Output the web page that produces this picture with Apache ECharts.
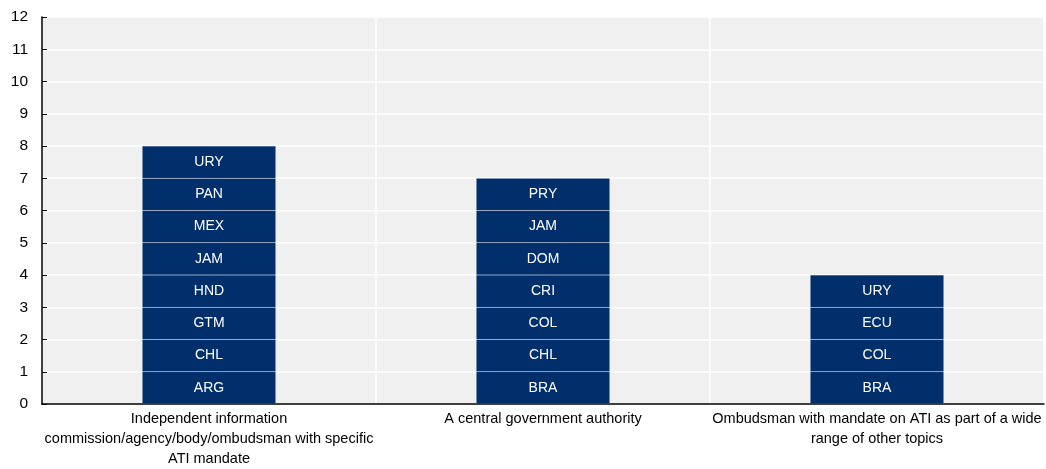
<!DOCTYPE html>
<html>
<head>
<meta charset="utf-8">
<script src="https://cdn.jsdelivr.net/npm/echarts@6/dist/echarts.min.js"></script>
<style>
  html, body { margin: 0; padding: 0; background: #fff; }
  #chart { width: 1046px; height: 469px; }
</style>
</head>
<body>
<div id="chart"></div>
<script>
const categories = [
  'Independent information\ncommission/agency/body/ombudsman with specific\nATI mandate',
  'A central government authority',
  'Ombudsman with mandate on ATI as part of a wide\nrange of other topics'
]
// country codes stacked from bottom to top, each counts as 1
const independentBody = ['ARG', 'CHL', 'GTM', 'HND', 'JAM', 'MEX', 'PAN', 'URY']
const centralAuthority = ['BRA', 'CHL', 'COL', 'CRI', 'DOM', 'JAM', 'PRY']
const ombudsmanWide = ['BRA', 'COL', 'ECU', 'URY']
const yTicks = [0, 1, 2, 3, 4, 5, 6, 7, 8, 9, 10, 11, 12]

const groups = [independentBody, centralAuthority, ombudsmanWide]
const levels = Math.max(...groups.map(g => g.length))
const font = '"Liberation Sans", Arial, sans-serif'

const series = []
for (let i = 0; i < levels; i++) {
  series.push({
    type: 'bar',
    stack: 'total',
    barWidth: '40%',
    data: groups.map(g => (i < g.length ? { value: 1, name: g[i] } : '-')),
    itemStyle: { color: '#002f6c', borderColor: 'rgba(255,255,255,0.15)', borderWidth: 0.5 },
    label: {
      show: true,
      position: 'inside',
      formatter: p => p.data.name,
      color: '#fff',
      fontFamily: font,
      fontSize: 14
    },
    emphasis: { disabled: true }
  })
}

const chart = echarts.init(document.getElementById('chart'))
chart.setOption({
  animation: false,
  backgroundColor: '#fff',
  grid: {
    left: 42, right: 2, top: 17, bottom: 65,
    outerBoundsMode: 'none',
    show: true, backgroundColor: '#f0f0f0', borderWidth: 0
  },
  xAxis: {
    type: 'category',
    data: categories,
    axisLine: { lineStyle: { color: '#000', width: 1.5 } },
    axisTick: { inside: true, length: 5, lineStyle: { color: '#000' } },
    splitLine: { show: true, lineStyle: { color: '#fff', width: 1.5 } },
    axisLabel: { color: '#000', fontFamily: font, fontSize: 14.5, lineHeight: 20, margin: 5, interval: 0 }
  },
  yAxis: {
    type: 'value',
    min: yTicks[0],
    max: yTicks[yTicks.length - 1],
    interval: 1,
    axisLine: { show: true, lineStyle: { color: '#000', width: 1.5 } },
    axisTick: { show: true, inside: true, length: 5, lineStyle: { color: '#000' } },
    splitLine: { show: true, lineStyle: { color: '#fff', width: 1.5 } },
    axisLabel: { color: '#000', fontFamily: font, fontSize: 15.5, margin: 14 }
  },
  series: series
})
</script>
</body>
</html>
